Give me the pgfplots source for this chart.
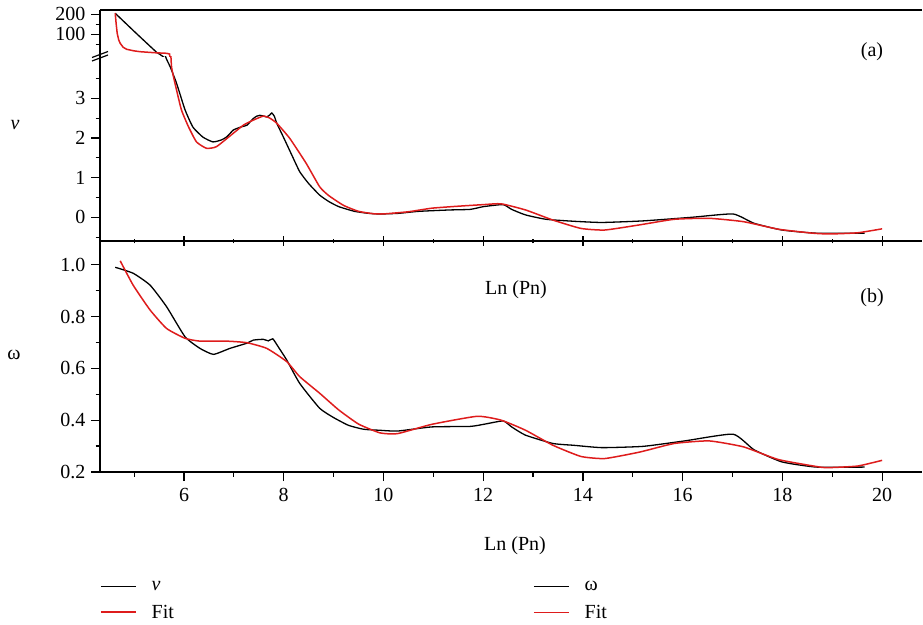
\documentclass[border=0pt]{standalone}
\usepackage{fontspec}
\setmainfont{Liberation Serif}
\usepackage{pgfplots}
\pgfplotsset{compat=1.18}
\definecolor{fitred}{RGB}{222,28,28}
\newcommand{\lbl}{\fontsize{20bp}{24bp}\selectfont}
\begin{document}
\begin{tikzpicture}
\useasboundingbox (0bp,0bp) rectangle (923bp,625bp);
\pgfplotsset{
  every axis/.append style={
    scale only axis, width=822bp, xmin=4.315, xmax=20.80,
    font=\lbl,
    axis line style={-, line width=1.5bp},
    tick style={line width=1.2bp, black},
    major tick length=9bp, minor tick length=4.5bp,
    tick align=outside,
    /pgf/number format/assume math mode=true,
    yticklabel style={font=\lbl, xshift=-2bp},
    xticklabel style={font=\lbl, yshift=-4bp},
  },
  blk/.style={black, line width=1.3bp, smooth, tension=0.3},
  rd/.style={fitred, line width=1.5bp, smooth, tension=0.3},
}
% ---------- top panel, upper segment ----------
\begin{axis}[at={(100bp,568bp)}, anchor=south west, height=47bp,
  ymin=-13.5, ymax=221.5,
  axis x line*=top, axis y line*=left,
  xtick=\empty, ytick={100,200}, yticklabels={100,200},
  minor ytick={50,150}]
\addplot[black, line width=1.3bp, forget plot] coordinates {
(4.62,205) (5.02,110) (5.32,40) (5.45,10) (5.52,-1) (5.60,-15) (5.68,-35)};
\addplot[fitred, line width=1.5bp, forget plot] coordinates {
(4.62,205) (4.64,150) (4.66,105) (4.69,72) (4.72,55) (4.78,35) (4.85,25)
(5.0,17) (5.12,13) (5.4,8) (5.65,5) (5.71,1.5) (5.73,-40)};
\end{axis}
% ---------- top panel, lower segment ----------
\begin{axis}[at={(100bp,384bp)}, anchor=south west, height=184bp,
  ymin=-0.597, ymax=4.04,
  axis x line*=bottom, axis y line*=left,
  xtick={6,8,...,20}, minor xtick={5,7,...,19}, xticklabels={},
  major x tick style={yshift=4.5bp}, minor x tick style={yshift=2.25bp},
  ytick={0,1,2,3}, yticklabels={0,1,2,3},
  minor ytick={-0.5,0.5,1.5,2.5,3.5},
  legend cell align=left,
  legend image code/.code={\draw[#1] (0bp,0bp) -- (35bp,0bp);},
  legend style={draw=none, fill=none, inner sep=0pt,
    at={(axis description cs:0,-1.837)}, anchor=north west,
    row sep=9bp, font=\lbl,
    /tikz/every odd column/.append style={column sep=13bp}}]
\addplot[blk] coordinates {
(5.55,4.6) (5.63,4.05) (5.72,3.80) (5.85,3.38) (6.02,2.71) (6.18,2.27)
(6.38,2.02) (6.58,1.90) (6.75,1.95) (6.86,2.03) (6.99,2.20) (7.15,2.28)
(7.26,2.32) (7.39,2.49) (7.46,2.55) (7.52,2.57) (7.60,2.55) (7.66,2.53)
(7.72,2.58) (7.76,2.63) (7.81,2.55) (7.86,2.37) (7.99,2.03) (8.15,1.60)
(8.32,1.15) (8.5,0.85) (8.72,0.56) (8.9,0.40) (9.1,0.27) (9.42,0.15)
(9.7,0.10) (9.93,0.084) (10.3,0.10) (10.7,0.15) (11.32,0.185) (11.74,0.20)
(12.01,0.27) (12.40,0.32) (12.57,0.20) (12.85,0.06) (13.26,-0.05)
(13.82,-0.10) (14.38,-0.13) (15.21,-0.09) (16.18,0.0) (17.01,0.084)
(17.43,-0.15) (17.99,-0.32) (18.68,-0.40) (19.65,-0.40)};
\addlegendentry{\textit{ν}}
\addplot[rd] coordinates {
(5.72,4.6) (5.75,3.79) (5.85,3.21) (5.95,2.70) (6.09,2.28) (6.25,1.90)
(6.45,1.74) (6.65,1.78) (6.99,2.12) (7.2,2.33) (7.39,2.45) (7.59,2.55)
(7.72,2.50) (7.86,2.37) (8.12,1.99) (8.45,1.36) (8.72,0.77) (8.9,0.55)
(9.2,0.30) (9.5,0.15) (9.8,0.09) (10.0,0.085) (10.5,0.14) (10.97,0.23)
(11.5,0.28) (12.01,0.32) (12.36,0.34) (12.85,0.185) (13.40,-0.07)
(13.96,-0.28) (14.44,-0.32) (15.14,-0.19) (15.83,-0.05) (16.53,-0.025)
(17.22,-0.11) (17.92,-0.30) (18.61,-0.40) (18.96,-0.42) (19.51,-0.39)
(20.0,-0.29)};
\addlegendentry{Fit}
\end{axis}
% ---------- bottom panel ----------
\begin{axis}[at={(100bp,153bp)}, anchor=south west, height=231bp,
  ymin=0.2, ymax=1.0915,
  axis x line*=bottom, axis y line*=left,
  xtick={6,8,...,20}, xticklabels={6,8,10,12,14,16,18,20},
  minor xtick={5,7,...,19},
  ytick={0.2,0.4,0.6,0.8,1.0}, yticklabels={0.2,0.4,0.6,0.8,1.0},
  minor ytick={0.3,0.5,0.7,0.9},
  legend cell align=left,
  legend image code/.code={\draw[#1] (0bp,0bp) -- (35bp,0bp);},
  legend style={draw=none, fill=none, inner sep=0pt,
    at={(axis description cs:0.5268,-0.463)}, anchor=north west,
    row sep=9bp, font=\lbl,
    /tikz/every odd column/.append style={column sep=13bp}}]
\addplot[blk] coordinates {
(4.62,0.99) (4.98,0.967) (5.32,0.921) (5.65,0.838) (6.02,0.722) (6.32,0.677)
(6.59,0.654) (6.92,0.677) (7.26,0.697) (7.39,0.709) (7.59,0.712) (7.69,0.706)
(7.78,0.714) (7.89,0.683) (8.06,0.632) (8.32,0.542) (8.72,0.446) (9.0,0.41)
(9.3,0.38) (9.6,0.365) (9.93,0.361) (10.28,0.358) (10.97,0.374) (11.74,0.376)
(12.01,0.384) (12.40,0.397) (12.57,0.374) (12.85,0.342) (13.40,0.31)
(13.82,0.303) (14.38,0.294) (15.21,0.299) (16.04,0.32) (17.01,0.346)
(17.43,0.286) (17.99,0.239) (18.68,0.219) (19.65,0.219)};
\addlegendentry{ω}
\addplot[rd] coordinates {
(4.72,1.015) (4.98,0.921) (5.32,0.825) (5.65,0.754) (6.02,0.716) (6.32,0.705)
(6.86,0.705) (7.26,0.699) (7.66,0.677) (8.06,0.626) (8.32,0.568) (8.72,0.504)
(9.1,0.44) (9.5,0.385) (9.93,0.351) (10.28,0.348) (10.97,0.384) (11.88,0.415)
(12.36,0.40) (12.85,0.361) (13.40,0.303) (13.96,0.26) (14.44,0.252)
(15.14,0.277) (15.83,0.31) (16.53,0.32) (17.22,0.297) (17.92,0.248)
(18.75,0.219) (18.96,0.217) (19.51,0.223) (20.0,0.245)};
\addlegendentry{Fit}
\end{axis}
% axis break marks
\draw[line width=1.2bp] (92bp,564bp) -- (108bp,570bp);
\draw[line width=1.2bp] (92bp,567.5bp) -- (108bp,573.5bp);
% labels
\node[font=\lbl] at (15bp,500bp) {\textit{ν}};
\node[font=\lbl] at (14bp,270bp) {ω};
\node[font=\lbl] at (516bp,335bp) {Ln (Pn)};
\node[font=\lbl] at (515bp,79bp) {Ln (Pn)};
\node[font=\lbl] at (872bp,573bp) {(a)};
\node[font=\lbl] at (872bp,327bp) {(b)};
\end{tikzpicture}
\end{document}
